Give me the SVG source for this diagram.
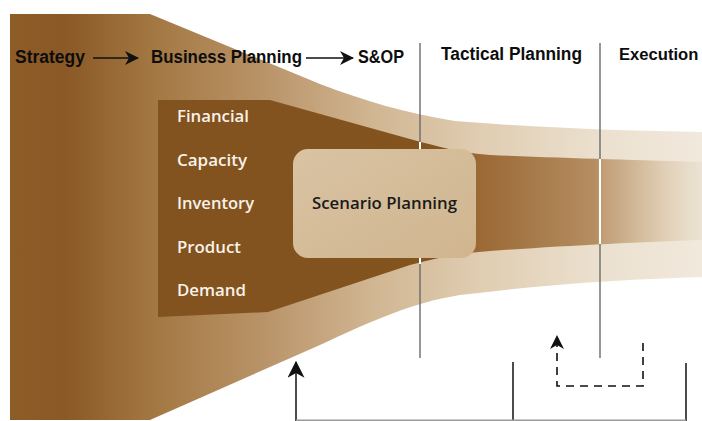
<svg xmlns="http://www.w3.org/2000/svg" width="702" height="421" viewBox="0 0 702 421">
  <defs>
    <linearGradient id="funnelFill" gradientUnits="userSpaceOnUse" x1="10" y1="0" x2="702" y2="0">
      <stop offset="0" stop-color="#8e5c27"/>
      <stop offset="0.08" stop-color="#8a5925"/>
      <stop offset="0.2" stop-color="#a27640"/>
      <stop offset="0.38" stop-color="#bb966c"/>
      <stop offset="0.52" stop-color="#d0b591"/>
      <stop offset="0.68" stop-color="#e0cdb2"/>
      <stop offset="0.85" stop-color="#ebe0ce"/>
      <stop offset="1" stop-color="#f1e9dd"/>
    </linearGradient>
    <linearGradient id="bandFill" gradientUnits="userSpaceOnUse" x1="158" y1="0" x2="702" y2="0">
      <stop offset="0" stop-color="#82521f"/>
      <stop offset="0.52" stop-color="#84541f"/>
      <stop offset="0.585" stop-color="#9a6833"/>
      <stop offset="0.805" stop-color="#b58e62"/>
      <stop offset="0.818" stop-color="#c19e76"/>
      <stop offset="0.936" stop-color="#e2d1b9"/>
      <stop offset="1" stop-color="#ece3d4"/>
    </linearGradient>
    <linearGradient id="boxFill" x1="0" y1="0" x2="1" y2="1">
      <stop offset="0" stop-color="#d9c3a3"/>
      <stop offset="1" stop-color="#d0b58f"/>
    </linearGradient>
    <marker id="head" viewBox="0 0 14 14" markerUnits="userSpaceOnUse" markerWidth="14" markerHeight="14" refX="13" refY="7" orient="auto">
      <path d="M0,0 L14,7 L0,14 L4,7 Z" fill="#111"/>
    </marker>
    <marker id="headBig" viewBox="0 0 14 14" markerUnits="userSpaceOnUse" markerWidth="17" markerHeight="17" refX="13" refY="7" orient="auto">
      <path d="M0,0 L14,7 L0,14 L4,7 Z" fill="#111"/>
    </marker>
    <style>
      .hdr { font-family: "Liberation Sans", Arial, sans-serif; font-weight: bold; font-size: 18px; fill: #0d0d0d; }
      .lbl { font-family: "Open Sans", "Liberation Sans", sans-serif; font-weight: 600; font-size: 16.5px; fill: #f8f2e8; }
      .sc  { font-family: "Open Sans", "Liberation Sans", sans-serif; font-weight: 600; font-size: 16.5px; fill: #1a1a1a; }
      .guide { stroke: #6b6b6b; stroke-width: 1.4; fill: none; }
      .gap { stroke: #ffffff; stroke-width: 2; fill: none; }
      .flow { stroke: #111; stroke-width: 1.5; fill: none; }
      .base { stroke: #9a9a9a; stroke-width: 1.5; fill: none; }
      .dash { stroke: #111; stroke-width: 1.6; fill: none; stroke-dasharray: 8 6; }
    </style>
  </defs>

  <rect width="702" height="421" fill="#ffffff"/>

  <!-- outer funnel narrowing from strategy to execution -->
  <g id="funnel">
    <path d="M10,14 L150,14 L320,84 C365,101 405,113 455,121 C540,128 630,131 702,132 L702,277 C630,279 550,284 460,295 C410,303 370,322 320,345 L150,420 L10,420 Z" fill="url(#funnelFill)"/>
  </g>

  <!-- inner planning band: inputs block tapering into scenario planning -->
  <g id="inputs">
    <path d="M158,100 L270,100 L410,139 C440,147 460,153 490,155 C560,158 640,160 702,162 L702,240 C640,242 560,246 490,251 C460,253 440,257 410,265 L268,312 L158,317 Z" fill="url(#bandFill)"/>
    <text class="lbl" x="177" y="122" textLength="72" lengthAdjust="spacingAndGlyphs">Financial</text>
    <text class="lbl" x="177" y="166" textLength="70" lengthAdjust="spacingAndGlyphs">Capacity</text>
    <text class="lbl" x="177" y="209" textLength="77" lengthAdjust="spacingAndGlyphs">Inventory</text>
    <text class="lbl" x="177" y="253" textLength="64" lengthAdjust="spacingAndGlyphs">Product</text>
    <text class="lbl" x="177" y="296" textLength="69" lengthAdjust="spacingAndGlyphs">Demand</text>
  </g>

  <!-- phase dividers -->
  <g id="dividers">
    <line class="guide" x1="420" y1="43" x2="420" y2="358"/>
    <line class="guide" x1="600" y1="43" x2="600" y2="358"/>
    <line class="gap" x1="420" y1="142" x2="420" y2="151"/>
    <line class="gap" x1="420" y1="256" x2="420" y2="264"/>
    <line class="gap" x1="600" y1="159" x2="600" y2="244"/>
  </g>

  <g id="scenario-planning">
    <rect x="293" y="149" width="183" height="109" rx="15" fill="url(#boxFill)"/>
    <text class="sc" x="312" y="209" textLength="145" lengthAdjust="spacingAndGlyphs">Scenario Planning</text>
  </g>

  <g id="strategy">
    <text class="hdr" x="15" y="63" textLength="70" lengthAdjust="spacingAndGlyphs">Strategy</text>
  </g>
  <g id="business-planning">
    <text class="hdr" x="151" y="63" textLength="151" lengthAdjust="spacingAndGlyphs">Business Planning</text>
  </g>
  <g id="sop">
    <text class="hdr" x="358" y="63" textLength="46" lengthAdjust="spacingAndGlyphs">S&amp;OP</text>
  </g>
  <g id="tactical-planning">
    <text class="hdr" x="441" y="60" textLength="141" lengthAdjust="spacingAndGlyphs">Tactical Planning</text>
  </g>
  <g id="execution">
    <text class="hdr" x="619" y="60" style="font-size:16.6px">Execution</text>
  </g>

  <!-- connectors -->
  <g id="connectors">
    <line class="flow" x1="93" y1="58" x2="138" y2="58" marker-end="url(#head)"/>
    <line class="flow" x1="306" y1="58" x2="353" y2="58" marker-end="url(#head)"/>
    <line class="flow" x1="296" y1="421" x2="296" y2="362" marker-end="url(#headBig)"/>
    <line class="flow" x1="513" y1="362" x2="513" y2="421"/>
    <line class="flow" x1="686" y1="363" x2="686" y2="421"/>
    <line class="base" x1="296" y1="420.2" x2="686" y2="420.2"/>
    <path class="dash" d="M643,343 L643,386 L557,386 L557,336" marker-end="url(#head)"/>
  </g>
</svg>
